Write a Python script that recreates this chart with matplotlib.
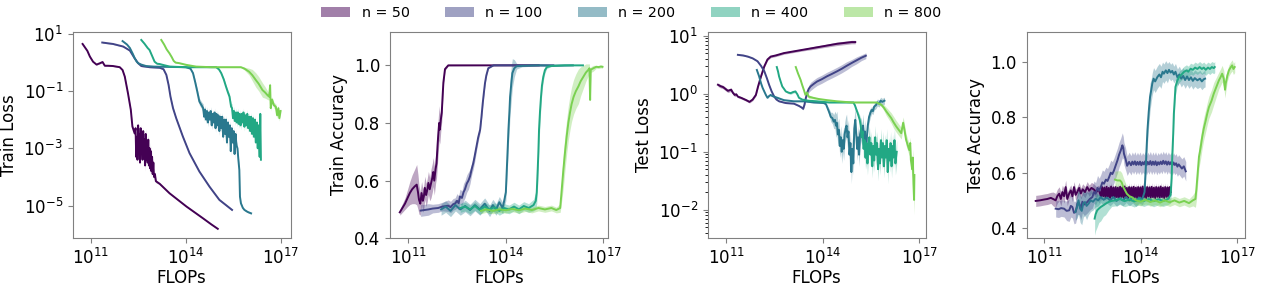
import numpy as np
import matplotlib
matplotlib.use("Agg")
import matplotlib.pyplot as plt
from matplotlib.patches import Patch
from matplotlib.ticker import NullLocator

# rows are [log10 FLOPs, value, spread]; loss values and spreads are in log10 decades
sizes = ["n = 50", "n = 100", "n = 200", "n = 400", "n = 800"]
colors = ["#440154", "#414487", "#2a788e", "#22a884", "#7ad151"]

train_loss_50 = [
    [10.75, 0.64, 0.02], [10.90, 0.40, 0.02], [10.98, 0.20, 0.02], [11.08, 0.02, 0.02],
    [11.19, -0.08, 0.02], [11.30, -0.03, 0.02], [11.38, 0.01, 0.02], [11.45, -0.12, 0.02],
    [11.55, -0.12, 0.02], [11.71, -0.13, 0.02], [11.92, -0.17, 0.02], [12.01, -0.27, 0.03],
    [12.08, -0.50, 0.03], [12.18, -1.08, 0.03], [12.27, -1.66, 0.04], [12.32, -2.24, 0.05],
    [12.39, -2.48, 0.08], [12.42, -2.3, 0.15], [12.44, -3.3, 0.15], [12.46, -2.6, 0.15],
    [12.48, -3.4, 0.15], [12.50, -2.2, 0.15], [12.52, -3.1, 0.15], [12.54, -2.5, 0.15],
    [12.56, -3.5, 0.15], [12.58, -2.3, 0.15], [12.60, -3.2, 0.15], [12.62, -2.6, 0.15],
    [12.64, -3.4, 0.15], [12.66, -2.4, 0.15], [12.68, -3.3, 0.2], [12.70, -2.7, 0.2],
    [12.72, -3.6, 0.2], [12.74, -2.5, 0.2], [12.76, -3.4, 0.2], [12.78, -2.8, 0.2],
    [12.80, -3.5, 0.2], [12.82, -2.7, 0.2], [12.84, -3.6, 0.2], [12.86, -3.0, 0.2],
    [12.88, -3.7, 0.2], [12.90, -3.1, 0.2], [12.92, -3.8, 0.2], [12.94, -3.3, 0.2],
    [12.96, -3.9, 0.15], [12.98, -3.5, 0.15], [13.00, -4.0, 0.1], [13.03, -3.9, 0.08],
    [13.06, -4.15, 0.05], [13.18, -4.24, 0.03], [13.49, -4.57, 0.02], [14.02, -5.03, 0.02],
    [14.54, -5.44, 0.02], [14.80, -5.65, 0.02], [15.01, -5.81, 0.02],
]
train_loss_100 = [
    [11.37, 0.69, 0.02], [11.71, 0.64, 0.02], [12.03, 0.55, 0.02], [12.24, 0.41, 0.02],
    [12.39, 0.14, 0.02], [12.50, -0.03, 0.02], [12.60, -0.13, 0.02], [12.86, -0.17, 0.02],
    [13.18, -0.19, 0.02], [13.30, -0.24, 0.02], [13.39, -0.44, 0.03], [13.46, -0.79, 0.04],
    [13.52, -1.20, 0.04], [13.60, -1.60, 0.04], [13.70, -1.95, 0.03], [13.91, -2.59, 0.03],
    [14.12, -3.17, 0.03], [14.43, -3.81, 0.03], [14.75, -4.34, 0.03], [15.06, -4.80, 0.03],
    [15.46, -5.15, 0.03],
]
train_loss_200 = [
    [12.01, 0.74, 0.02], [12.15, 0.62, 0.02], [12.24, 0.50, 0.02], [12.33, 0.30, 0.02],
    [12.39, 0.15, 0.02], [12.45, 0.03, 0.02], [12.50, -0.03, 0.02], [12.60, -0.08, 0.02],
    [12.75, -0.13, 0.02], [13.00, -0.15, 0.02], [13.50, -0.16, 0.02], [14.00, -0.17, 0.02],
    [14.15, -0.22, 0.03], [14.23, -0.38, 0.05], [14.30, -0.70, 0.08], [14.36, -1.00, 0.1],
    [14.43, -1.37, 0.12], [14.50, -1.50, 0.12], [14.55, -1.6, 0.15], [14.58, -1.9, 0.15],
    [14.61, -1.65, 0.15], [14.64, -2.0, 0.15], [14.67, -1.7, 0.15], [14.70, -2.1, 0.15],
    [14.73, -1.75, 0.15], [14.76, -2.0, 0.15], [14.79, -1.7, 0.15], [14.82, -2.2, 0.15],
    [14.85, -1.8, 0.15], [14.88, -2.1, 0.15], [14.91, -1.75, 0.15], [14.94, -2.3, 0.15],
    [14.97, -1.8, 0.15], [15.00, -2.2, 0.15], [15.03, -1.85, 0.15], [15.06, -2.4, 0.15],
    [15.09, -1.9, 0.15], [15.12, -2.3, 0.15], [15.15, -1.9, 0.15], [15.18, -2.6, 0.15],
    [15.21, -2.0, 0.15], [15.24, -2.5, 0.15], [15.27, -2.0, 0.15], [15.30, -2.8, 0.15],
    [15.33, -2.1, 0.15], [15.36, -2.6, 0.15], [15.39, -2.2, 0.15], [15.42, -3.1, 0.15],
    [15.45, -2.3, 0.15], [15.48, -2.8, 0.15], [15.51, -2.4, 0.15], [15.54, -3.2, 0.15],
    [15.57, -2.5, 0.15], [15.60, -2.9, 0.15], [15.63, -3.0, 0.12], [15.66, -3.4, 0.1],
    [15.69, -3.76, 0.08], [15.71, -4.69, 0.06], [15.74, -4.92, 0.04], [15.80, -5.08, 0.03],
    [15.85, -5.15, 0.03], [15.95, -5.22, 0.03], [16.06, -5.27, 0.03],
]
train_loss_400 = [
    [12.60, 0.78, 0.02], [12.70, 0.65, 0.02], [12.80, 0.50, 0.02], [12.86, 0.43, 0.02],
    [12.95, 0.20, 0.02], [13.02, 0.02, 0.02], [13.10, -0.05, 0.02], [13.18, -0.06, 0.02],
    [13.28, -0.09, 0.02], [13.50, -0.15, 0.02], [14.00, -0.17, 0.02], [14.50, -0.17, 0.02],
    [14.96, -0.17, 0.02], [15.05, -0.25, 0.03], [15.12, -0.38, 0.04], [15.20, -0.60, 0.05],
    [15.27, -0.85, 0.06], [15.33, -1.05, 0.08], [15.38, -1.20, 0.1], [15.43, -1.55, 0.12],
    [15.46, -1.6, 0.15], [15.49, -1.95, 0.15], [15.52, -1.7, 0.15], [15.55, -2.05, 0.15],
    [15.58, -1.75, 0.15], [15.61, -2.1, 0.15], [15.64, -1.75, 0.15], [15.67, -2.15, 0.15],
    [15.70, -1.8, 0.15], [15.73, -2.2, 0.15], [15.76, -1.8, 0.15], [15.79, -2.1, 0.15],
    [15.82, -1.75, 0.15], [15.85, -2.25, 0.15], [15.88, -1.85, 0.15], [15.91, -2.2, 0.15],
    [15.94, -1.8, 0.15], [15.97, -2.3, 0.15], [16.00, -1.9, 0.15], [16.03, -2.4, 0.15],
    [16.06, -1.9, 0.15], [16.09, -2.5, 0.15], [16.12, -1.95, 0.15], [16.15, -2.6, 0.15],
    [16.18, -2.0, 0.15], [16.21, -2.8, 0.15], [16.24, -2.1, 0.15], [16.27, -3.0, 0.15],
    [16.30, -2.2, 0.15], [16.33, -3.3, 0.15], [16.35, -1.8, 0.15], [16.37, -3.4, 0.15],
]
train_loss_800 = [
    [13.23, 0.78, 0.02], [13.32, 0.62, 0.02], [13.40, 0.45, 0.02], [13.49, 0.31, 0.02],
    [13.56, 0.18, 0.02], [13.62, 0.05, 0.02], [13.68, -0.01, 0.02], [13.80, -0.03, 0.02],
    [14.02, -0.09, 0.02], [14.33, -0.15, 0.02], [14.80, -0.17, 0.02], [15.30, -0.17, 0.02],
    [15.74, -0.17, 0.02], [15.85, -0.22, 0.05], [16.00, -0.33, 0.12], [16.10, -0.45, 0.2],
    [16.21, -0.62, 0.25], [16.30, -0.75, 0.25], [16.42, -0.97, 0.25], [16.50, -1.05, 0.2],
    [16.58, -1.15, 0.15], [16.63, -1.20, 0.12], [16.66, -0.80, 0.1], [16.68, -1.60, 0.1],
    [16.72, -1.30, 0.1], [16.78, -1.50, 0.1], [16.84, -1.55, 0.1], [16.88, -1.85, 0.1],
    [16.92, -1.60, 0.1], [16.95, -1.95, 0.1], [16.99, -1.70, 0.1],
]

train_acc_50 = [
    [10.74, 0.490, 0.01], [10.82, 0.505, 0.015], [10.90, 0.520, 0.02], [10.98, 0.540, 0.03],
    [11.05, 0.557, 0.04], [11.12, 0.570, 0.05], [11.20, 0.580, 0.06], [11.26, 0.586, 0.07],
    [11.30, 0.560, 0.06], [11.33, 0.534, 0.05], [11.37, 0.520, 0.04], [11.41, 0.557, 0.04],
    [11.45, 0.530, 0.04], [11.48, 0.545, 0.04], [11.51, 0.575, 0.04], [11.55, 0.550, 0.04],
    [11.58, 0.565, 0.04], [11.62, 0.592, 0.04], [11.66, 0.570, 0.04], [11.70, 0.590, 0.05],
    [11.74, 0.610, 0.05], [11.77, 0.630, 0.05], [11.80, 0.600, 0.05], [11.84, 0.640, 0.05],
    [11.87, 0.660, 0.05], [11.90, 0.720, 0.06], [11.92, 0.754, 0.06], [11.95, 0.800, 0.06],
    [11.97, 0.777, 0.05], [12.00, 0.810, 0.04], [12.03, 0.835, 0.03], [12.06, 0.900, 0.02],
    [12.08, 0.940, 0.01], [12.13, 0.987, 0.005], [12.23, 1.000, 0.002], [13.00, 1.000, 0.001],
    [14.00, 1.000, 0.0], [15.01, 1.000, 0.0],
]
train_acc_100 = [
    [11.38, 0.496, 0.02], [11.50, 0.498, 0.02], [11.62, 0.500, 0.02], [11.75, 0.503, 0.015],
    [11.92, 0.505, 0.015], [12.05, 0.510, 0.015], [12.23, 0.513, 0.02], [12.30, 0.508, 0.02],
    [12.38, 0.518, 0.02], [12.44, 0.520, 0.02], [12.50, 0.530, 0.025], [12.55, 0.522, 0.025],
    [12.59, 0.545, 0.025], [12.65, 0.540, 0.025], [12.70, 0.560, 0.03], [12.74, 0.569, 0.03],
    [12.80, 0.590, 0.03], [12.85, 0.600, 0.03], [12.90, 0.615, 0.025], [12.95, 0.640, 0.02],
    [13.00, 0.661, 0.02], [13.05, 0.690, 0.02], [13.10, 0.720, 0.015], [13.15, 0.750, 0.015],
    [13.21, 0.777, 0.01], [13.25, 0.820, 0.01], [13.29, 0.869, 0.01], [13.33, 0.910, 0.008],
    [13.36, 0.939, 0.005], [13.40, 0.965, 0.004], [13.46, 0.990, 0.002], [13.62, 1.000, 0.001],
    [14.50, 1.000, 0.0], [15.46, 1.000, 0.0],
]
train_acc_200 = [
    [12.01, 0.500, 0.02], [12.15, 0.510, 0.02], [12.30, 0.495, 0.02], [12.45, 0.515, 0.02],
    [12.60, 0.500, 0.02], [12.75, 0.512, 0.02], [12.90, 0.498, 0.02], [13.05, 0.515, 0.02],
    [13.20, 0.500, 0.02], [13.35, 0.520, 0.02], [13.50, 0.495, 0.02], [13.60, 0.515, 0.02],
    [13.70, 0.500, 0.02], [13.80, 0.525, 0.02], [13.90, 0.505, 0.02], [13.95, 0.530, 0.02],
    [14.00, 0.560, 0.03], [14.03, 0.640, 0.04], [14.06, 0.720, 0.05], [14.08, 0.777, 0.05],
    [14.11, 0.840, 0.06], [14.13, 0.890, 0.06], [14.17, 0.940, 0.06], [14.20, 0.973, 0.05],
    [14.26, 0.990, 0.03], [14.33, 0.997, 0.01], [14.50, 0.998, 0.003], [15.00, 1.000, 0.002],
    [15.50, 0.999, 0.002], [16.06, 1.000, 0.001],
]
train_acc_400 = [
    [12.60, 0.505, 0.015], [12.75, 0.510, 0.015], [12.90, 0.500, 0.015], [13.05, 0.512, 0.015],
    [13.20, 0.498, 0.015], [13.35, 0.510, 0.015], [13.50, 0.500, 0.015], [13.65, 0.508, 0.015],
    [13.80, 0.495, 0.015], [13.95, 0.505, 0.015], [14.10, 0.500, 0.015], [14.25, 0.510, 0.015],
    [14.40, 0.500, 0.015], [14.55, 0.512, 0.015], [14.70, 0.505, 0.015], [14.85, 0.515, 0.02],
    [14.92, 0.530, 0.03], [14.95, 0.560, 0.04], [14.98, 0.640, 0.05], [15.00, 0.700, 0.05],
    [15.02, 0.777, 0.05], [15.05, 0.840, 0.04], [15.08, 0.890, 0.03], [15.11, 0.930, 0.02],
    [15.15, 0.960, 0.015], [15.20, 0.983, 0.01], [15.26, 0.994, 0.005], [15.40, 0.998, 0.002],
    [15.80, 1.000, 0.001], [16.37, 1.000, 0.001],
]
train_acc_800 = [
    [13.23, 0.495, 0.01], [13.40, 0.500, 0.01], [13.60, 0.495, 0.01], [13.80, 0.500, 0.01],
    [14.00, 0.497, 0.01], [14.20, 0.502, 0.01], [14.40, 0.497, 0.01], [14.60, 0.503, 0.01],
    [14.80, 0.498, 0.01], [15.00, 0.505, 0.01], [15.20, 0.500, 0.01], [15.40, 0.505, 0.01],
    [15.55, 0.498, 0.01], [15.67, 0.505, 0.015], [15.70, 0.545, 0.03], [15.74, 0.600, 0.05],
    [15.77, 0.640, 0.06], [15.82, 0.700, 0.06], [15.87, 0.754, 0.06], [15.92, 0.800, 0.06],
    [15.97, 0.835, 0.06], [16.02, 0.865, 0.06], [16.08, 0.890, 0.06], [16.15, 0.910, 0.06],
    [16.23, 0.927, 0.06], [16.30, 0.945, 0.05], [16.38, 0.960, 0.04], [16.46, 0.975, 0.03],
    [16.54, 0.985, 0.02], [16.57, 0.990, 0.015], [16.59, 0.880, 0.01], [16.61, 0.985, 0.01],
    [16.69, 0.990, 0.01], [16.78, 0.995, 0.005], [16.85, 0.994, 0.005], [16.92, 0.996, 0.005],
    [16.97, 0.995, 0.005],
]

test_loss_50 = [
    [10.74, 0.155, 0.03], [10.82, 0.13, 0.03], [10.90, 0.115, 0.03], [10.98, 0.08, 0.03],
    [11.05, 0.05, 0.03], [11.15, 0.07, 0.03], [11.20, 0.02, 0.03], [11.26, -0.02, 0.03],
    [11.31, -0.01, 0.02], [11.36, -0.05, 0.02], [11.46, -0.07, 0.02], [11.54, -0.09, 0.02],
    [11.62, -0.11, 0.02], [11.72, -0.14, 0.02], [11.82, -0.10, 0.02], [11.92, -0.02, 0.02],
    [11.99, 0.13, 0.02], [12.08, 0.30, 0.02], [12.18, 0.47, 0.02], [12.28, 0.59, 0.02],
    [12.38, 0.64, 0.02], [12.54, 0.66, 0.02], [12.79, 0.70, 0.02], [13.10, 0.73, 0.02],
    [13.41, 0.76, 0.02], [13.72, 0.79, 0.025], [14.03, 0.82, 0.025], [14.44, 0.86, 0.03],
    [14.90, 0.89, 0.03], [15.01, 0.89, 0.03],
]
test_loss_100 = [
    [11.36, 0.67, 0.01], [11.52, 0.66, 0.01], [11.67, 0.64, 0.01], [11.82, 0.61, 0.01],
    [11.97, 0.56, 0.01], [12.08, 0.48, 0.01], [12.18, 0.39, 0.01], [12.26, 0.27, 0.01],
    [12.33, 0.155, 0.01], [12.41, 0.04, 0.01], [12.49, -0.05, 0.01], [12.56, -0.10, 0.01],
    [12.64, -0.13, 0.01], [12.85, -0.16, 0.01], [13.10, -0.17, 0.01], [13.26, -0.21, 0.01],
    [13.35, -0.24, 0.015], [13.39, -0.26, 0.02], [13.43, -0.19, 0.03], [13.47, -0.08, 0.04],
    [13.51, 0.01, 0.05], [13.56, 0.08, 0.06], [13.62, 0.126, 0.07], [13.72, 0.17, 0.07],
    [13.82, 0.21, 0.07], [13.97, 0.25, 0.07], [14.13, 0.30, 0.07], [14.28, 0.34, 0.07],
    [14.44, 0.385, 0.07], [14.59, 0.43, 0.07], [14.74, 0.48, 0.07], [14.90, 0.53, 0.06],
    [15.05, 0.575, 0.06], [15.20, 0.62, 0.05], [15.34, 0.655, 0.05],
]
test_loss_200 = [
    [11.95, 0.41, 0.01], [12.02, 0.30, 0.01], [12.08, 0.18, 0.01], [12.13, 0.10, 0.01],
    [12.18, 0.04, 0.01], [12.23, -0.02, 0.01], [12.28, -0.07, 0.01], [12.33, -0.04, 0.01],
    [12.38, -0.02, 0.01], [12.43, -0.04, 0.01], [12.49, -0.05, 0.01], [12.59, -0.07, 0.01],
    [12.79, -0.11, 0.01], [13.10, -0.13, 0.01], [13.41, -0.13, 0.01], [13.72, -0.15, 0.01],
    [14.03, -0.16, 0.01], [14.10, -0.18, 0.02], [14.15, -0.25, 0.04], [14.20, -0.32, 0.06],
    [14.25, -0.40, 0.08], [14.30, -0.42, 0.1], [14.34, -0.48, 0.12], [14.38, -0.45, 0.15],
    [14.41, -0.55, 0.2], [14.44, -0.50, 0.2], [14.47, -0.70, 0.2], [14.50, -0.62, 0.2],
    [14.53, -0.90, 0.2], [14.56, -0.75, 0.2], [14.59, -1.00, 0.2], [14.62, -0.80, 0.2],
    [14.65, -0.95, 0.2], [14.68, -0.70, 0.2], [14.71, -0.60, 0.2], [14.74, -0.55, 0.2],
    [14.77, -0.75, 0.2], [14.80, -0.65, 0.2], [14.83, -1.05, 0.2], [14.86, -0.85, 0.2],
    [14.89, -1.35, 0.2], [14.92, -0.95, 0.2], [14.95, -1.20, 0.2], [14.98, -0.60, 0.2],
    [15.01, -0.45, 0.2], [15.04, -0.70, 0.2], [15.07, -0.95, 0.2], [15.10, -0.75, 0.2],
    [15.13, -1.05, 0.2], [15.16, -0.70, 0.2], [15.19, -0.60, 0.2], [15.22, -0.75, 0.2],
    [15.25, -0.55, 0.2], [15.28, -0.80, 0.2], [15.31, -0.65, 0.2], [15.34, -1.10, 0.2],
    [15.37, -0.75, 0.15], [15.40, -0.55, 0.12], [15.44, -0.40, 0.1], [15.48, -0.33, 0.08],
    [15.52, -0.28, 0.06], [15.56, -0.30, 0.06], [15.60, -0.22, 0.06], [15.65, -0.20, 0.06],
    [15.70, -0.15, 0.06], [15.75, -0.17, 0.06], [15.80, -0.12, 0.06], [15.85, -0.14, 0.06],
    [15.92, -0.12, 0.06],
]
test_loss_400 = [
    [12.57, 0.46, 0.01], [12.61, 0.38, 0.01], [12.64, 0.30, 0.01], [12.69, 0.21, 0.01],
    [12.74, 0.126, 0.01], [12.80, 0.08, 0.01], [12.85, 0.04, 0.01], [12.93, 0.02, 0.02],
    [13.00, 0.01, 0.02], [13.08, 0.03, 0.02], [13.15, 0.04, 0.02], [13.21, -0.01, 0.01],
    [13.26, -0.07, 0.01], [13.36, -0.10, 0.01], [13.56, -0.12, 0.01], [13.82, -0.13, 0.01],
    [14.20, -0.15, 0.01], [14.60, -0.15, 0.01], [14.95, -0.15, 0.01], [15.00, -0.20, 0.02],
    [15.05, -0.28, 0.03], [15.10, -0.36, 0.05], [15.15, -0.45, 0.08], [15.18, -0.55, 0.12],
    [15.21, -0.75, 0.15], [15.24, -0.65, 0.2], [15.27, -0.95, 0.2], [15.30, -0.80, 0.2],
    [15.33, -1.10, 0.2], [15.36, -0.85, 0.2], [15.39, -1.20, 0.2], [15.42, -0.90, 0.2],
    [15.45, -0.75, 0.2], [15.48, -1.05, 0.2], [15.51, -0.85, 0.2], [15.54, -1.25, 0.2],
    [15.57, -0.90, 0.2], [15.60, -1.15, 0.2], [15.63, -0.75, 0.2], [15.66, -1.05, 0.2],
    [15.69, -0.85, 0.2], [15.72, -1.30, 0.2], [15.75, -0.95, 0.2], [15.78, -1.20, 0.2],
    [15.81, -0.80, 0.2], [15.84, -1.10, 0.2], [15.87, -0.85, 0.2], [15.90, -1.25, 0.2],
    [15.93, -0.90, 0.2], [15.96, -1.10, 0.2], [15.99, -0.80, 0.2], [16.02, -1.35, 0.2],
    [16.05, -0.95, 0.2], [16.08, -1.15, 0.2], [16.11, -0.85, 0.2], [16.14, -1.25, 0.2],
    [16.17, -0.90, 0.2], [16.20, -1.10, 0.2], [16.23, -0.80, 0.2], [16.26, -1.20, 0.2],
    [16.30, -1.00, 0.2],
]
test_loss_800 = [
    [13.16, 0.46, 0.01], [13.23, 0.35, 0.01], [13.31, 0.24, 0.01], [13.36, 0.15, 0.01],
    [13.41, 0.07, 0.01], [13.46, -0.02, 0.02], [13.51, 0.02, 0.03], [13.56, -0.05, 0.03],
    [13.70, -0.07, 0.02], [13.87, -0.09, 0.01], [14.13, -0.11, 0.01], [14.44, -0.13, 0.01],
    [14.90, -0.15, 0.01], [15.30, -0.15, 0.01], [15.67, -0.15, 0.01], [15.75, -0.17, 0.02],
    [15.82, -0.19, 0.03], [15.90, -0.24, 0.05], [15.97, -0.30, 0.07], [16.05, -0.36, 0.08],
    [16.13, -0.42, 0.09], [16.20, -0.49, 0.1], [16.28, -0.56, 0.1], [16.36, -0.62, 0.1],
    [16.44, -0.68, 0.1], [16.50, -0.50, 0.1], [16.54, -0.62, 0.1], [16.59, -0.79, 0.1],
    [16.64, -0.88, 0.1], [16.69, -0.97, 0.1], [16.72, -0.85, 0.1], [16.74, -1.14, 0.12],
    [16.78, -1.30, 0.15], [16.80, -1.10, 0.15], [16.82, -1.54, 0.2], [16.84, -1.83, 0.25],
    [16.85, -1.40, 0.25],
]

test_acc_50 = [
    [10.74, 0.498, 0.02], [10.87, 0.500, 0.02], [11.00, 0.503, 0.02], [11.10, 0.505, 0.02],
    [11.21, 0.509, 0.02], [11.28, 0.505, 0.025], [11.36, 0.500, 0.025], [11.41, 0.515, 0.025],
    [11.47, 0.524, 0.025], [11.52, 0.505, 0.025], [11.57, 0.530, 0.025], [11.62, 0.515, 0.025],
    [11.67, 0.548, 0.025], [11.72, 0.505, 0.025], [11.78, 0.525, 0.02], [11.83, 0.536, 0.02],
    [11.88, 0.515, 0.02], [11.93, 0.548, 0.02], [11.98, 0.520, 0.02], [12.03, 0.530, 0.02],
    [12.09, 0.545, 0.02], [12.14, 0.525, 0.02], [12.20, 0.540, 0.02], [12.27, 0.530, 0.02],
    [12.34, 0.548, 0.02], [12.40, 0.535, 0.02], [12.47, 0.545, 0.02], [12.55, 0.539, 0.02],
    [12.62, 0.530, 0.02], [12.70, 0.540, 0.015], [12.77, 0.512, 0.015], [12.80, 0.548, 0.015],
    [12.84, 0.515, 0.015], [12.87, 0.546, 0.015], [12.91, 0.510, 0.015], [12.94, 0.549, 0.015],
    [12.98, 0.513, 0.015], [13.01, 0.545, 0.015], [13.05, 0.509, 0.015], [13.08, 0.550, 0.015],
    [13.12, 0.514, 0.015], [13.15, 0.547, 0.015], [13.19, 0.510, 0.015], [13.22, 0.548, 0.015],
    [13.26, 0.512, 0.015], [13.29, 0.546, 0.015], [13.33, 0.509, 0.015], [13.36, 0.549, 0.015],
    [13.40, 0.513, 0.015], [13.43, 0.547, 0.015], [13.47, 0.510, 0.015], [13.50, 0.550, 0.015],
    [13.54, 0.512, 0.015], [13.57, 0.545, 0.015], [13.61, 0.509, 0.015], [13.64, 0.548, 0.015],
    [13.68, 0.514, 0.015], [13.71, 0.547, 0.015], [13.75, 0.510, 0.015], [13.78, 0.549, 0.015],
    [13.82, 0.512, 0.015], [13.85, 0.546, 0.015], [13.89, 0.509, 0.015], [13.92, 0.548, 0.015],
    [13.96, 0.513, 0.015], [13.99, 0.547, 0.015], [14.03, 0.510, 0.015], [14.06, 0.550, 0.015],
    [14.10, 0.512, 0.015], [14.13, 0.546, 0.015], [14.17, 0.509, 0.015], [14.20, 0.548, 0.015],
    [14.24, 0.514, 0.015], [14.27, 0.547, 0.015], [14.31, 0.510, 0.015], [14.34, 0.549, 0.015],
    [14.38, 0.512, 0.015], [14.41, 0.546, 0.015], [14.45, 0.509, 0.015], [14.48, 0.548, 0.015],
    [14.52, 0.513, 0.015], [14.55, 0.547, 0.015], [14.59, 0.510, 0.015], [14.62, 0.550, 0.015],
    [14.66, 0.512, 0.015], [14.69, 0.546, 0.015], [14.73, 0.509, 0.015], [14.76, 0.548, 0.015],
    [14.80, 0.513, 0.015], [14.83, 0.547, 0.015], [14.87, 0.510, 0.015], [14.90, 0.548, 0.015],
    [14.93, 0.530, 0.015],
]
test_acc_100 = [
    [11.36, 0.470, 0.03], [11.45, 0.468, 0.03], [11.53, 0.472, 0.03], [11.62, 0.470, 0.03],
    [11.70, 0.462, 0.035], [11.78, 0.464, 0.04], [11.83, 0.480, 0.04], [11.88, 0.476, 0.04],
    [11.93, 0.455, 0.04], [11.98, 0.458, 0.04], [12.04, 0.490, 0.04], [12.09, 0.488, 0.04],
    [12.14, 0.470, 0.04], [12.19, 0.495, 0.04], [12.25, 0.485, 0.04], [12.34, 0.494, 0.04],
    [12.42, 0.505, 0.04], [12.50, 0.512, 0.04], [12.55, 0.530, 0.04], [12.60, 0.524, 0.04],
    [12.66, 0.545, 0.045], [12.71, 0.535, 0.045], [12.76, 0.548, 0.045], [12.81, 0.565, 0.045],
    [12.86, 0.560, 0.045], [12.92, 0.575, 0.045], [12.97, 0.570, 0.045], [13.02, 0.584, 0.045],
    [13.07, 0.600, 0.045], [13.12, 0.595, 0.045], [13.17, 0.608, 0.045], [13.22, 0.625, 0.045],
    [13.28, 0.645, 0.045], [13.33, 0.665, 0.045], [13.38, 0.680, 0.045], [13.43, 0.699, 0.045],
    [13.46, 0.690, 0.04], [13.48, 0.669, 0.04], [13.53, 0.650, 0.04], [13.58, 0.625, 0.035],
    [13.64, 0.639, 0.035], [13.70, 0.627, 0.035], [13.74, 0.640, 0.035], [13.78, 0.630, 0.035],
    [13.82, 0.641, 0.035], [13.86, 0.628, 0.035], [13.90, 0.639, 0.035], [13.94, 0.629, 0.035],
    [13.98, 0.640, 0.035], [14.02, 0.627, 0.035], [14.06, 0.638, 0.035], [14.10, 0.630, 0.035],
    [14.14, 0.641, 0.035], [14.18, 0.627, 0.035], [14.22, 0.639, 0.035], [14.26, 0.630, 0.035],
    [14.30, 0.642, 0.035], [14.34, 0.628, 0.035], [14.38, 0.640, 0.035], [14.42, 0.629, 0.035],
    [14.46, 0.641, 0.035], [14.50, 0.627, 0.035], [14.54, 0.638, 0.035], [14.58, 0.630, 0.035],
    [14.62, 0.640, 0.035], [14.66, 0.631, 0.035], [14.70, 0.643, 0.035], [14.74, 0.632, 0.035],
    [14.78, 0.641, 0.035], [14.82, 0.629, 0.035], [14.86, 0.640, 0.035], [14.90, 0.630, 0.035],
    [14.94, 0.638, 0.035], [14.98, 0.626, 0.035], [15.02, 0.637, 0.035], [15.06, 0.628, 0.035],
    [15.10, 0.634, 0.035], [15.14, 0.622, 0.035], [15.18, 0.630, 0.035], [15.22, 0.624, 0.035],
    [15.28, 0.615, 0.035], [15.34, 0.623, 0.035], [15.40, 0.605, 0.035],
]
test_acc_200 = [
    [11.97, 0.458, 0.03], [12.02, 0.475, 0.04], [12.07, 0.500, 0.05], [12.12, 0.470, 0.05],
    [12.17, 0.462, 0.05], [12.22, 0.490, 0.05], [12.27, 0.494, 0.05], [12.32, 0.480, 0.05],
    [12.38, 0.488, 0.04], [12.45, 0.500, 0.04], [12.52, 0.495, 0.03], [12.60, 0.506, 0.03],
    [12.68, 0.500, 0.02], [12.76, 0.512, 0.02], [12.85, 0.502, 0.02], [12.95, 0.510, 0.02],
    [13.05, 0.500, 0.02], [13.15, 0.512, 0.02], [13.25, 0.498, 0.02], [13.35, 0.508, 0.02],
    [13.45, 0.500, 0.02], [13.55, 0.512, 0.02], [13.65, 0.500, 0.02], [13.75, 0.510, 0.02],
    [13.85, 0.498, 0.02], [13.95, 0.510, 0.02], [14.05, 0.505, 0.02], [14.12, 0.530, 0.03],
    [14.15, 0.600, 0.04], [14.18, 0.680, 0.05], [14.21, 0.753, 0.05], [14.25, 0.820, 0.05],
    [14.29, 0.873, 0.05], [14.33, 0.900, 0.04], [14.36, 0.922, 0.04], [14.40, 0.940, 0.04],
    [14.45, 0.930, 0.04], [14.52, 0.946, 0.04], [14.58, 0.955, 0.04], [14.63, 0.945, 0.04],
    [14.68, 0.965, 0.035], [14.72, 0.958, 0.035], [14.78, 0.970, 0.035], [14.83, 0.960, 0.035],
    [14.88, 0.972, 0.03], [14.93, 0.962, 0.03], [14.98, 0.968, 0.03], [15.03, 0.955, 0.03],
    [15.08, 0.965, 0.03], [15.14, 0.945, 0.03], [15.20, 0.955, 0.03], [15.26, 0.940, 0.03],
    [15.32, 0.950, 0.03], [15.38, 0.935, 0.03], [15.44, 0.948, 0.03], [15.50, 0.935, 0.03],
    [15.56, 0.945, 0.03], [15.62, 0.932, 0.03], [15.68, 0.942, 0.03], [15.76, 0.934, 0.03],
    [15.84, 0.940, 0.03], [15.90, 0.930, 0.03], [15.96, 0.938, 0.03], [16.00, 0.940, 0.03],
]
test_acc_400 = [
    [12.57, 0.434, 0.06], [12.60, 0.450, 0.06], [12.65, 0.464, 0.06], [12.70, 0.470, 0.05],
    [12.76, 0.476, 0.05], [12.84, 0.482, 0.04], [12.91, 0.488, 0.04], [13.00, 0.494, 0.03],
    [13.10, 0.498, 0.02], [13.22, 0.500, 0.02], [13.35, 0.505, 0.02], [13.50, 0.497, 0.02],
    [13.65, 0.503, 0.02], [13.80, 0.496, 0.02], [13.95, 0.504, 0.02], [14.10, 0.498, 0.02],
    [14.25, 0.505, 0.02], [14.40, 0.497, 0.02], [14.55, 0.504, 0.02], [14.70, 0.498, 0.02],
    [14.85, 0.505, 0.02], [14.93, 0.520, 0.03], [14.96, 0.580, 0.04], [14.98, 0.657, 0.04],
    [15.01, 0.740, 0.04], [15.03, 0.813, 0.04], [15.06, 0.870, 0.03], [15.08, 0.910, 0.03],
    [15.13, 0.930, 0.02], [15.19, 0.946, 0.02], [15.27, 0.955, 0.02], [15.34, 0.964, 0.02],
    [15.42, 0.970, 0.02], [15.48, 0.965, 0.02], [15.55, 0.976, 0.02], [15.62, 0.972, 0.02],
    [15.69, 0.980, 0.02], [15.76, 0.975, 0.02], [15.83, 0.982, 0.02], [15.90, 0.975, 0.02],
    [15.96, 0.980, 0.02], [16.02, 0.972, 0.02], [16.09, 0.980, 0.02], [16.15, 0.975, 0.02],
    [16.21, 0.982, 0.02], [16.27, 0.978, 0.02], [16.30, 0.982, 0.02],
]
test_acc_800 = [
    [13.20, 0.575, 0.03], [13.28, 0.572, 0.035], [13.36, 0.572, 0.035], [13.41, 0.565, 0.035],
    [13.46, 0.548, 0.035], [13.52, 0.535, 0.03], [13.57, 0.524, 0.025], [13.65, 0.515, 0.02],
    [13.72, 0.512, 0.015], [13.85, 0.500, 0.015], [14.00, 0.495, 0.015], [14.15, 0.502, 0.015],
    [14.30, 0.494, 0.015], [14.45, 0.500, 0.015], [14.60, 0.492, 0.015], [14.75, 0.500, 0.015],
    [14.90, 0.493, 0.015], [15.05, 0.500, 0.015], [15.20, 0.492, 0.015], [15.35, 0.498, 0.015],
    [15.50, 0.490, 0.015], [15.62, 0.500, 0.02], [15.70, 0.505, 0.03], [15.73, 0.540, 0.04],
    [15.76, 0.584, 0.04], [15.81, 0.657, 0.04], [15.86, 0.690, 0.04], [15.91, 0.729, 0.04],
    [15.96, 0.760, 0.04], [16.02, 0.789, 0.04], [16.07, 0.815, 0.04], [16.12, 0.837, 0.04],
    [16.20, 0.860, 0.04], [16.27, 0.886, 0.04], [16.35, 0.910, 0.035], [16.43, 0.934, 0.03],
    [16.48, 0.945, 0.03], [16.53, 0.958, 0.03], [16.58, 0.940, 0.03], [16.62, 0.900, 0.03],
    [16.64, 0.922, 0.03], [16.69, 0.950, 0.02], [16.74, 0.970, 0.02], [16.79, 0.980, 0.02],
    [16.84, 0.988, 0.02], [16.88, 0.975, 0.02], [16.92, 0.982, 0.02],
]

train_loss = [train_loss_50, train_loss_100, train_loss_200, train_loss_400, train_loss_800]
train_acc = [train_acc_50, train_acc_100, train_acc_200, train_acc_400, train_acc_800]
test_loss = [test_loss_50, test_loss_100, test_loss_200, test_loss_400, test_loss_800]
test_acc = [test_acc_50, test_acc_100, test_acc_200, test_acc_400, test_acc_800]


def draw(ax, rows, color, log_y):
    a = np.array(rows)
    x = 10 ** a[:, 0]
    if log_y:
        y = 10 ** a[:, 1]
        lo = 10 ** (a[:, 1] - a[:, 2])
        hi = 10 ** (a[:, 1] + a[:, 2])
    else:
        y = a[:, 1]
        lo = y - a[:, 2]
        hi = y + a[:, 2]
    ax.fill_between(x, lo, hi, color=color, alpha=0.35, lw=0)
    ax.plot(x, y, color=color, lw=1.4)


fig = plt.figure(figsize=(12.63, 2.85), dpi=100)
lefts = [0.0576, 0.3088, 0.5603, 0.8129]
panels = [
    (train_loss, "Train Loss", True, (10.44, 17.31), (10 ** -6.14, 10 ** 1.07)),
    (train_acc, "Train Accuracy", False, (10.44, 17.14), (0.4, 1.117)),
    (test_loss, "Test Loss", True, (10.42, 17.20), (10 ** -2.49, 10 ** 1.07)),
    (test_acc, "Test Accuracy", False, (10.46, 17.23), (0.363, 1.11)),
]

for left, (series, label, log_y, xl, yl) in zip(lefts, panels):
    ax = fig.add_axes([left, 0.164, 0.1726, 0.725])
    for rows, c in zip(series, colors):
        draw(ax, rows, c, log_y)
    ax.set_xscale("log")
    if log_y:
        ax.set_yscale("log")
    ax.set_xlim(10 ** xl[0], 10 ** xl[1])
    ax.set_ylim(*yl)
    ax.set_xticks([1e11, 1e14, 1e17])
    ax.xaxis.set_minor_locator(NullLocator())
    if label == "Train Loss":
        ax.set_yticks([1e1, 1e-1, 1e-3, 1e-5])
        ax.yaxis.set_minor_locator(NullLocator())
    if not log_y:
        ax.set_yticks([0.4, 0.6, 0.8, 1.0])
    ax.set_xlabel("FLOPs", fontsize=12, labelpad=1)
    ax.set_ylabel(label, fontsize=12)
    ax.tick_params(labelsize=12, color="0.5")
    for s in ax.spines.values():
        s.set_color("0.5")

handles = [Patch(facecolor=c, alpha=0.5, edgecolor="none") for c in colors]
fig.legend(handles, sizes, loc="center", bbox_to_anchor=(0.5, 0.953), ncol=5,
           frameon=False, fontsize=10.3, columnspacing=2.5)

fig.savefig("out.png", dpi=100)
